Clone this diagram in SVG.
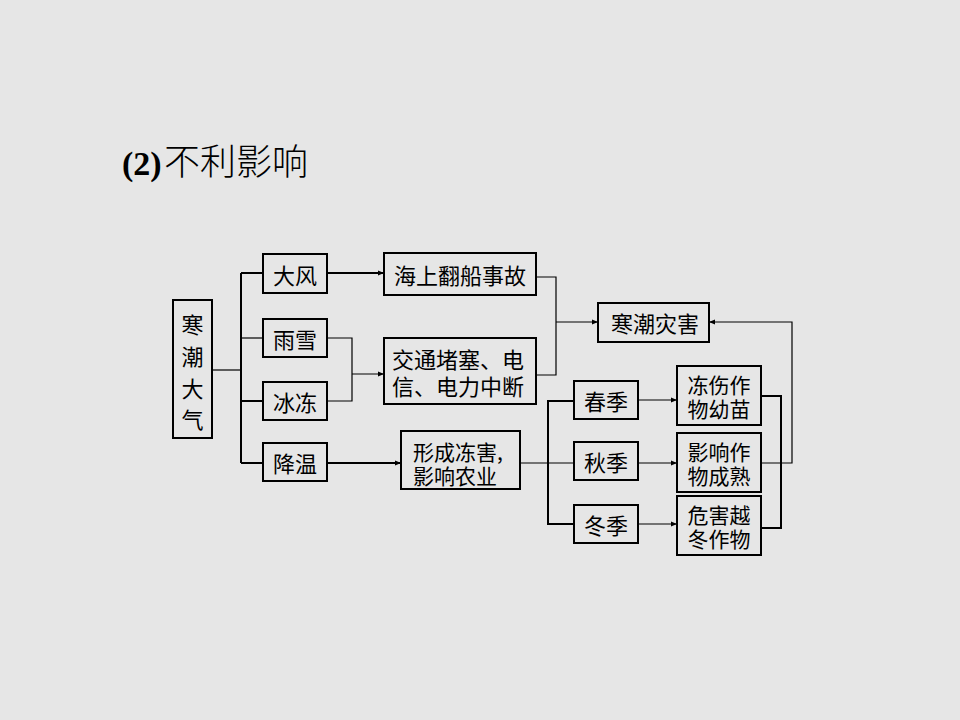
<svg xmlns="http://www.w3.org/2000/svg" width="960" height="720" viewBox="0 0 960 720">
<defs>
<style>
.bg{fill:#e6e6e6}
.box{fill:none;stroke:#000;stroke-width:2}
.t{font-family:"Noto Sans CJK SC","Liberation Serif",serif;font-size:22px;fill:#000;dominant-baseline:central;text-anchor:middle}
.t2{font-family:"Noto Sans CJK SC","Liberation Serif",serif;font-size:21px;fill:#000;dominant-baseline:central;text-anchor:middle}
.ts{font-family:"Noto Sans CJK SC","Liberation Serif",serif;font-size:22px;fill:#000;dominant-baseline:central}
.ts2{font-family:"Noto Sans CJK SC","Liberation Serif",serif;font-size:21px;fill:#000;dominant-baseline:central}
.c{fill:none;stroke:#000;stroke-width:2}
.c1{fill:none;stroke:#000;stroke-width:1.2}
</style>
<marker id="ah" viewBox="0 0 10 10" refX="10" refY="5" markerWidth="8" markerHeight="6" markerUnits="userSpaceOnUse" orient="auto">
<path d="M0,1 L10,5 L0,9 Z" fill="#000"/>
</marker>
</defs>
<rect class="bg" x="0" y="0" width="960" height="720"/>
<g id="title">
<text x="122" y="175" font-family="Liberation Serif,serif" font-weight="bold" font-size="34">(2)</text>
<text x="164" y="175" font-family="Noto Sans CJK SC,sans-serif" font-weight="300" font-size="36">不利影响</text>
</g>
<g id="n_hcdq"><rect class="box" x="173" y="300" width="39" height="138"/>
<text class="t"><tspan x="192.5" y="323">寒</tspan><tspan x="192.5" y="355">潮</tspan><tspan x="192.5" y="387">大</tspan><tspan x="192.5" y="418">气</tspan></text></g>
<g id="n_df"><rect class="box" x="263" y="254" width="64" height="39"/><text class="t" x="295" y="273.5">大风</text></g>
<g id="n_yx"><rect class="box" x="263" y="319" width="64" height="38"/><text class="t" x="295" y="338">雨雪</text></g>
<g id="n_bd"><rect class="box" x="263" y="382" width="64" height="38"/><text class="t" x="295" y="401">冰冻</text></g>
<g id="n_jw"><rect class="box" x="263" y="443" width="64" height="38"/><text class="t" x="295" y="462">降温</text></g>
<g id="n_hs"><rect class="box" x="384" y="253" width="152" height="42"/><text class="t" x="460" y="274">海上翻船事故</text></g>
<g id="n_jt"><rect class="box" x="384" y="338" width="152" height="66"/>
<text class="ts"><tspan x="392" y="358">交通堵塞、电</tspan><tspan x="392" y="385">信、电力中断</tspan></text></g>
<g id="n_xc"><rect class="box" x="401" y="431" width="119" height="58"/>
<text class="ts2"><tspan x="413" y="451">形成冻害,</tspan><tspan x="413" y="475">影响农业</tspan></text></g>
<g id="n_hczh"><rect class="box" x="598" y="303" width="111" height="39"/><text class="t" x="655" y="322">寒潮灾害</text></g>
<g id="n_cj"><rect class="box" x="574" y="381" width="64" height="38"/><text class="t" x="606" y="400">春季</text></g>
<g id="n_qj"><rect class="box" x="574" y="442" width="64" height="38"/><text class="t" x="606" y="461">秋季</text></g>
<g id="n_dj"><rect class="box" x="574" y="505" width="64" height="38"/><text class="t" x="606" y="524">冬季</text></g>
<g id="n_ds"><rect class="box" x="677" y="366" width="84" height="59"/>
<text class="t2"><tspan x="719" y="384">冻伤作</tspan><tspan x="719" y="408">物幼苗</tspan></text></g>
<g id="n_yx2"><rect class="box" x="677" y="433" width="84" height="59"/>
<text class="t2"><tspan x="719" y="451">影响作</tspan><tspan x="719" y="475">物成熟</tspan></text></g>
<g id="n_wh"><rect class="box" x="677" y="496" width="84" height="59"/>
<text class="t2"><tspan x="719" y="514">危害越</tspan><tspan x="719" y="538">冬作物</tspan></text></g>
<g id="connectors">
<path class="c1" d="M212,370 H241"/>
<path class="c" d="M241,273 V463"/>
<path class="c" d="M241,273 H263 M241,401 H263 M241,463 H263"/>
<path class="c1" d="M241,338 H263"/>
<path class="c" d="M327,273 H384" marker-end="url(#ah)"/>
<path class="c1" d="M327,338 H352 V401 H327 M352,374 H384" marker-end="url(#ah)"/>
<path class="c" d="M327,463 H401" marker-end="url(#ah)"/>
<path class="c1" d="M536,277 H556 V375 H536"/>
<path class="c1" d="M556,322 H598" marker-end="url(#ah)"/>
<path class="c1" d="M520,463 H574"/>
<path class="c" d="M574,401 H548 V524 H574"/>
<path class="c1" d="M638,400 H677" marker-end="url(#ah)"/>
<path class="c1" d="M638,463 H677" marker-end="url(#ah)"/>
<path class="c1" d="M638,524 H677" marker-end="url(#ah)"/>
<path class="c" d="M761,396 H781 V528 H761"/>
<path class="c1" d="M761,463 H792 V322 H709" marker-end="url(#ah)"/>
</g>
</svg>
